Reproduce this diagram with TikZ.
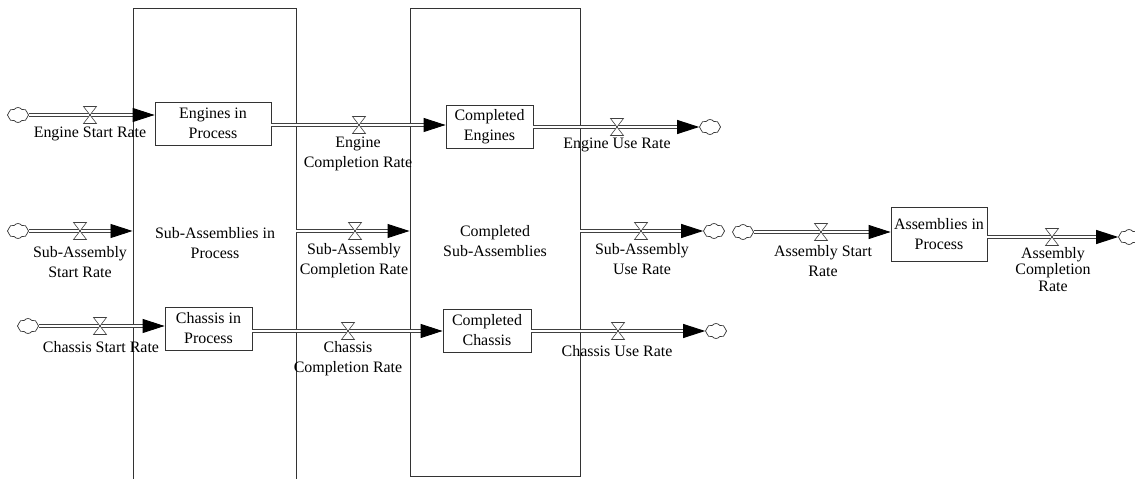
\documentclass[tikz,border=0pt]{standalone}
\usepackage{fontspec}
\setmainfont{Liberation Serif}
\usetikzlibrary{arrows.meta,shapes.symbols}
\tikzset{
  stock/.style={draw=black!80, line width=0.8bp, fill=white, align=center, inner sep=0,
    font=\fontsize{16}{20}\selectfont},
  sector/.style={draw=black!80, line width=0.9bp, inner sep=0},
  pipe/.style={draw=black!75, line width=0.9bp, double=white, double distance=2.6bp,
    -{Triangle[length=22bp,width=14bp,fill=black,color=black]}},
  sink/.style={cloud, cloud puffs=8, cloud puff arc=110, aspect=1.5, draw=black!80,
    line width=0.7bp, minimum width=21bp, minimum height=15bp, inner sep=0},
  lbl/.style={align=center, inner sep=0, font=\fontsize{16}{20}\selectfont},
  valve/.pic={\filldraw[fill=white, draw=black!75, line width=0.6bp]
    (-6.5,-8.5) -- (6.5,-8.5) -- (-6.5,8.5) -- (6.5,8.5) -- cycle;}
}
\begin{document}
\begin{tikzpicture}[x=1bp,y=-1bp]
\useasboundingbox (0,0) rectangle (1135,479);

% sector boxes (the left one runs off the bottom edge)
\node[sector, minimum width=163bp, minimum height=492bp] (sai) at (214.5,254) {};
\node[sector, minimum width=170bp, minimum height=468bp] (csa) at (495,242) {};
\node[lbl] (saiT) at (215,243) {Sub-Assemblies in\\Process};
\node[lbl] (csaT) at (495,241) {Completed\\Sub-Assemblies};

% stocks
\node[stock, minimum width=116bp, minimum height=43bp] (ep) at (213,123.5) {Engines in\\Process};
\node[stock, minimum width=87bp, minimum height=43bp] (ce) at (489.5,126.5) {Completed\\Engines};
\node[stock, minimum width=87bp, minimum height=43bp] (cp) at (208.5,328.5) {Chassis in\\Process};
\node[stock, minimum width=88bp, minimum height=43bp] (cc) at (487,330.5) {Completed\\Chassis};
\node[stock, minimum width=96bp, minimum height=54bp] (ap) at (939,234) {Assemblies in\\Process};

% sources and sinks
\node[sink] (s1) at (18,115) {};
\node[sink] (e1) at (710,127) {};
\node[sink] (s2) at (18,231) {};
\node[sink] (e2) at (714,231) {};
\node[sink] (s3) at (28,326) {};
\node[sink] (e3) at (716,331) {};
\node[sink] (s4) at (743,232) {};
\node[sink] (e4) at (1129,237) {};

% flows
\draw[pipe] (s1.east) -- (s1.east -| ep.west);
\draw[pipe] (ep.east |- 0,125) -- (ce.west |- 0,125);
\draw[pipe] (ce.east |- e1) -- (e1.west);

\draw[pipe] (s2.east) -- (s2.east -| sai.west);
\draw[pipe] (sai.east |- 0,231) -- (csa.west |- 0,231);
\draw[pipe] (csa.east |- e2) -- (e2.west);

\draw[pipe] (s3.east) -- (s3.east -| cp.west);
\draw[pipe] (cp.east |- 0,331) -- (cc.west |- 0,331);
\draw[pipe] (cc.east |- e3) -- (e3.west);

\draw[pipe] (s4.east) -- (s4.east -| ap.west);
\draw[pipe] (ap.east |- e4) -- (e4.west);

% valves
\pic at (90,115) {valve};
\pic at (359,125) {valve};
\pic at (617,127) {valve};
\pic at (80,231) {valve};
\pic at (355,231) {valve};
\pic at (641,231) {valve};
\pic at (100,326) {valve};
\pic at (348,331) {valve};
\pic at (618,331) {valve};
\pic at (821,232) {valve};
\pic at (1052,237) {valve};

% rate labels
\node[lbl] (l1) at (90,134) {Engine Start Rate};
\node[lbl] (l2) at (358,154) {Engine\\Completion Rate};
\node[lbl] (l3) at (617,145) {Engine Use Rate};
\node[lbl] (l4) at (80,262) {Sub-Assembly\\Start Rate};
\node[lbl] (l5) at (354,261) {Sub-Assembly\\Completion Rate};
\node[lbl] (l6) at (642,259) {Sub-Assembly\\Use Rate};
\node[lbl] (l7) at (101,347) {Chassis Start Rate};
\node[lbl] (l8) at (348,359) {Chassis\\Completion Rate};
\node[lbl] (l9) at (617,351) {Chassis Use Rate};
\node[lbl] (l10) at (823,261) {Assembly Start\\Rate};
\node[lbl, font=\fontsize{16}{16.5}\selectfont] (l11) at (1053,269.5) {Assembly\\Completion\\Rate};
\end{tikzpicture}
\end{document}
